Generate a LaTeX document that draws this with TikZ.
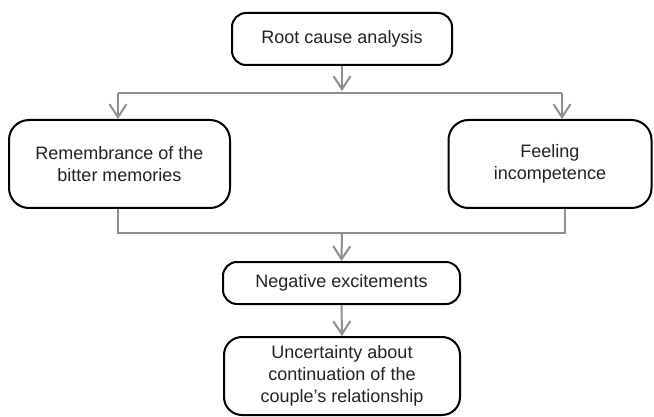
\documentclass[tikz,border=0pt]{standalone}
\usepackage{fontspec}
\setmainfont{Liberation Sans}
\usetikzlibrary{arrows.meta}
\definecolor{lg}{HTML}{8E8E8E}
\definecolor{tx}{HTML}{222222}
\tikzset{
  box/.style={draw=black, line width=2pt, rounded corners=16pt, align=center,
    inner sep=0pt, font=\fontsize{18}{22}\selectfont, text=tx},
  gline/.style={draw=lg, line width=2pt},
  garrow/.style={gline, -{Straight Barb[length=13pt,width=17pt,line width=2pt]}}
}
\begin{document}
\begin{tikzpicture}[x=1pt,y=1pt]
\useasboundingbox (0,0) rectangle (654,-417);
\node[box, minimum width=220pt, minimum height=52pt, rounded corners=14pt] (root) at (342,-39) {Root cause analysis};
\node[box, minimum width=221pt, minimum height=88pt, rounded corners=20pt] (left) at (119.5,-164) {Remembrance of the\\bitter memories};
\node[box, minimum width=203pt, minimum height=88pt, rounded corners=20pt] (right) at (550,-164) {Feeling\\incompetence};
\node[box, minimum width=237pt, minimum height=42pt, rounded corners=14pt] (neg) at (341.5,-283) {Negative excitements};
\node[box, minimum width=236pt, minimum height=78pt, rounded corners=18pt] (final) at (342,-376) {Uncertainty about\\continuation of the\\couple’s relationship};
\coordinate (s1) at (342,-91);
\coordinate (s1l) at (118,-93);
\coordinate (s1r) at (562,-93);
\coordinate (m1) at (342,-233);
\coordinate (m1l) at (118,-233);
\coordinate (m1r) at (565,-233);
\draw[garrow] (root.south) -- (s1);
\draw[gline] (s1l) -- (s1r);
\draw[garrow] (s1l) -- (s1l |- left.north);
\draw[garrow] (s1r) -- (s1r |- right.north);
\draw[gline] (m1l |- left.south) -- (m1l) -- (m1r) -- (m1r |- right.south);
\draw[garrow] (m1) -- (neg.north);
\draw[garrow] (neg.south) -- (final.north);
\end{tikzpicture}
\end{document}
